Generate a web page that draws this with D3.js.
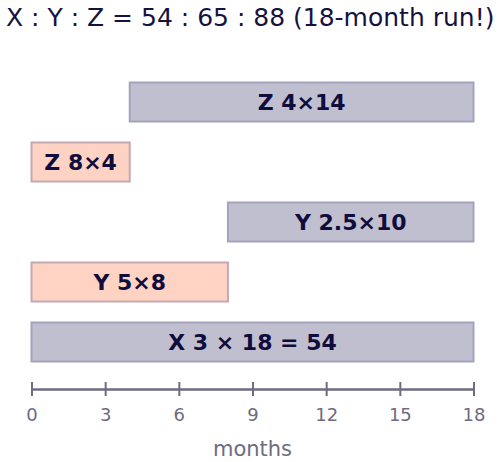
<!DOCTYPE html>
<html>
<head>
<meta charset="utf-8">
<script src="https://cdn.jsdelivr.net/npm/d3@7"></script>
<style>
  body { margin: 0; background: #fff; }
  text { font-family: "DejaVu Sans", sans-serif; }
</style>
</head>
<body>
<script>
var width = 502,
    height = 462;

// rows, top to bottom
var labels = ["Z 4×14", "Z 8×4", "Y 2.5×10", "Y 5×8", "X 3 × 18 = 54"];
var starts = [4, 0, 8, 0, 0];
var ends = [18, 4, 18, 8, 18];
var kinds = ["grey", "peach", "grey", "peach", "grey"];
var tickVals = [0, 3, 6, 9, 12, 15, 18];

var fills = { grey: "#bfbfcf", peach: "#ffd3c3" };
var strokes = { grey: "#a5a2bd", peach: "#c4a9b2" };

var svg = d3.select("body").append("svg")
    .attr("width", width)
    .attr("height", height);

svg.append("text")
    .attr("x", 6)
    .attr("y", 26)
    .attr("font-size", 25)
    .attr("fill", "#16123f")
    .text("X : Y : Z = 54 : 65 : 88 (18-month run!)");

var x = d3.scaleLinear().domain([0, 18]).range([31.5, 473.5]);
var y = d3.scaleBand().domain(d3.range(labels.length)).range([72, 372]).paddingInner(0.35).paddingOuter(0.175);

var bars = svg.append("g").selectAll("g")
    .data(labels)
    .enter().append("g");

bars.append("rect")
    .attr("x", function(d, i) { return x(starts[i]); })
    .attr("y", function(d, i) { return y(i); })
    .attr("width", function(d, i) { return x(ends[i]) - x(starts[i]); })
    .attr("height", y.bandwidth())
    .attr("fill", function(d, i) { return fills[kinds[i]]; })
    .attr("stroke", function(d, i) { return strokes[kinds[i]]; })
    .attr("stroke-width", 2);

bars.append("text")
    .attr("x", function(d, i) { return (x(starts[i]) + x(ends[i])) / 2; })
    .attr("y", function(d, i) { return y(i) + y.bandwidth() / 2; })
    .attr("dy", "0.36em")
    .attr("text-anchor", "middle")
    .attr("font-size", 22)
    .attr("font-weight", "bold")
    .attr("fill", "#100c3c")
    .text(function(d) { return d; });

var axisY = 389;
var axis = svg.append("g")
    .attr("transform", "translate(0," + axisY + ")")
    .call(d3.axisBottom(x).tickValues(tickVals).tickSize(6).tickSizeOuter(0).tickPadding(13));

axis.select(".domain").attr("stroke", "#6e6b82").attr("stroke-width", 2.5);
axis.selectAll(".tick line")
    .attr("y1", -7)
    .attr("y2", 7)
    .attr("stroke", "#6e6b82")
    .attr("stroke-width", 2);
axis.selectAll(".tick text")
    .attr("font-size", 18)
    .attr("font-family", "DejaVu Sans, sans-serif")
    .attr("fill", "#6e6b82");

svg.append("text")
    .attr("x", (x(0) + x(18)) / 2)
    .attr("y", 456)
    .attr("text-anchor", "middle")
    .attr("font-size", 21)
    .attr("fill", "#6e6b82")
    .text("months");
</script>
</body>
</html>
